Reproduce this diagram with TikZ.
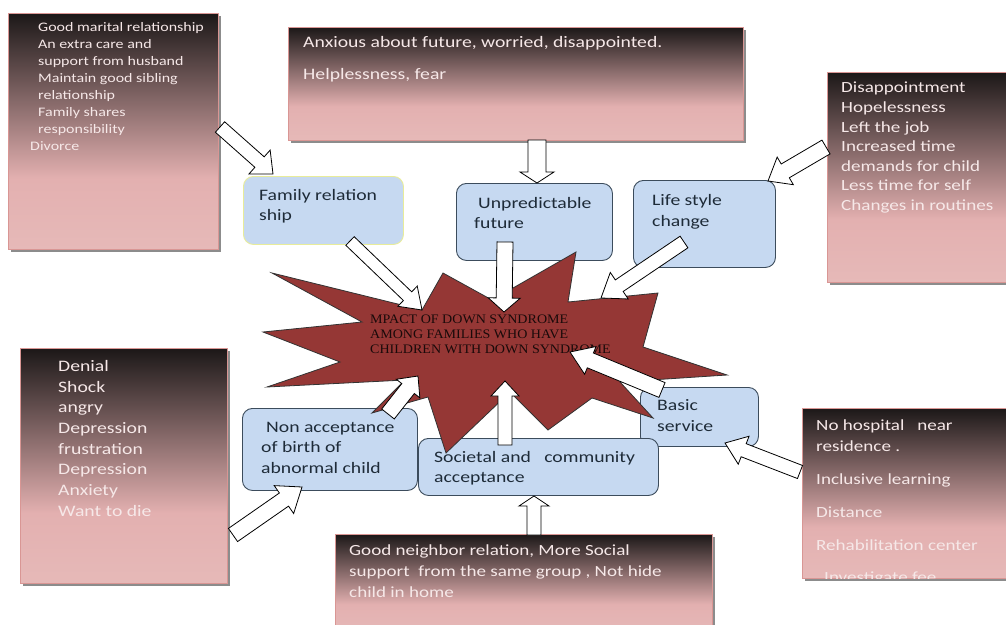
\documentclass[tikz,border=0pt]{standalone}
\usepackage{fontspec}
\setmainfont{Carlito}[FakeStretch=1.23]
\newfontfamily\starfont{Liberation Serif}[FakeStretch=1.08]
\usetikzlibrary{calc,shadows}
\definecolor{pinkA}{HTML}{E3B0B0}
\definecolor{pinkB}{HTML}{E6B9B8}
\definecolor{darkA}{HTML}{1C1818}
\definecolor{pinkline}{HTML}{D99694}
\definecolor{pinktxt}{HTML}{F6E8E8}
\definecolor{bluefill}{HTML}{C6D9F1}
\definecolor{blueline}{HTML}{3C4C5C}
\definecolor{yline}{HTML}{E8EC9A}
\definecolor{bluetxt}{HTML}{1E2B38}
\definecolor{starred}{HTML}{953735}
\definecolor{startxt}{HTML}{1A0A0A}
\pgfdeclareverticalshading{pinkgrad}{100bp}{color(0bp)=(pinkB); color(25bp)=(pinkB); color(40bp)=(pinkA); color(75bp)=(darkA); color(100bp)=(darkA)}
\newcommand\blockarrow[5]{%
  \coordinate (ba-n) at ($(#2)!#5!(#1)$);
  \draw[barrow] ($(#1)!#3!90:(#2)$) -- ($(ba-n)!#3!90:(#2)$) -- ($(ba-n)!#4!90:(#2)$) -- (#2)
    -- ($(ba-n)!#4!-90:(#2)$) -- ($(ba-n)!#3!-90:(#2)$) -- ($(#1)!#3!-90:(#2)$) -- cycle;
}
\begin{document}
\begin{tikzpicture}[x=1pt,y=-1pt,
  pinkbox/.style={rectangle, inner sep=0pt, anchor=north west, draw=pinkline, line width=0.8pt, shading=pinkgrad,
     drop shadow={shadow xshift=3pt, shadow yshift=-3pt, fill=black!45, opacity=1}},
  bluebox/.style={rectangle, rounded corners=10pt, inner sep=0pt, anchor=north west, fill=bluefill, draw=blueline, line width=0.9pt},
  ptext/.style={anchor=north west, inner sep=0pt, align=left, text=pinktxt},
  btext/.style={anchor=north west, inner sep=0pt, align=left, text=bluetxt},
  barrow/.style={draw=black, fill=white, line width=0.8pt, line join=miter},
  starstyle/.style={fill=starred, draw=black!80, line width=0.8pt, line join=miter}]
\useasboundingbox[fill=white] (0,0) rectangle (1006,624);

% pink boxes
\node[pinkbox, minimum width=210pt, minimum height=236pt] (b1) at (8,13) {};
\node[pinkbox, minimum width=455pt, minimum height=113pt] (b2) at (288,27) {};
\node[pinkbox, minimum width=185pt, minimum height=210pt] (b3) at (827,72) {};
\node[pinkbox, minimum width=207pt, minimum height=235pt] (b4) at (20,348) {};
\node[pinkbox, minimum width=210pt, minimum height=170pt] (b5) at (802,408) {};
\node[pinkbox, minimum width=377pt, minimum height=100pt] (b6) at (335,534) {};

\node[ptext, font=\fontsize{13}{17.1}\selectfont] (t1) at (38,22) {Good marital relationship\\An extra care and\\support from husband\\Maintain good sibling\\relationship\\Family shares\\responsibility\\\hspace*{-8pt}Divorce};
\node[ptext, font=\fontsize{16}{32}\selectfont] (t2) at (303,36) {Anxious about future, worried, disappointed.\\Helplessness, fear};
\node[ptext, font=\fontsize{15.5}{19.6}\selectfont] (t3) at (841,82) {Disappointment\\Hopelessness\\Left the job\\Increased time\\demands for child\\Less time for self\\Changes in routines};
\node[ptext, font=\fontsize{16}{20.7}\selectfont] (t4) at (58,360) {Denial\\Shock\\angry\\Depression\\frustration\\Depression\\Anxiety\\Want to die};
\begin{scope}
\clip (802,408) rectangle (1012,578);
\node[ptext, font=\fontsize{15.5}{21}\selectfont] (t5) at (816,420) {No hospital\ \ \ near\\residence .\\[12pt]Inclusive learning\\[12pt]Distance\\[12pt]Rehabilitation center\\[11pt]\hspace*{8pt}Investigate fee};
\end{scope}
\node[ptext, font=\fontsize{15.5}{21}\selectfont] (t6) at (349,545) {Good neighbor relation, More Social\\support\ \ from the same group , Not hide\\child in home};

% blue boxes
\node[bluebox, draw=yline, minimum width=160pt, minimum height=68pt] (fam) at (243,176) {};
\node[bluebox, minimum width=156pt, minimum height=77pt] (unp) at (456,183) {};
\node[bluebox, minimum width=142pt, minimum height=87pt] (life) at (633,180) {};
\node[bluebox, minimum width=118pt, minimum height=59pt] (basic) at (640,387) {};
\node[bluebox, minimum width=175pt, minimum height=82pt] (nonacc) at (242,408) {};
\node[bluebox, minimum width=240pt, minimum height=57pt] (soc) at (418,438) {};

\node[btext, font=\fontsize{16}{20.5}\selectfont] (famt) at (259,189) {Family relation\\ship};
\node[btext, font=\fontsize{16}{20}\selectfont] (unpt) at (474,197) {\hspace*{4pt}Unpredictable\\future};
\node[btext, font=\fontsize{16}{21}\selectfont] (lifet) at (652,194) {Life style\\change};
\node[btext, font=\fontsize{16}{21}\selectfont] (basict) at (657,399) {Basic\\service};
\node[btext, font=\fontsize{16}{20.5}\selectfont] (nonacct) at (261,422) {\hspace*{5pt}Non acceptance\\of birth of\\abnormal child};
\node[btext, font=\fontsize{16}{20}\selectfont] (soct) at (434,451) {Societal and\ \ \ community\\acceptance};

% starburst
\draw[starstyle] (272,273) -- (422,310) -- (443,273) -- (492,300) -- (576,252) -- (568,302) -- (658,293)
  -- (643,347) -- (727,375) -- (620,382) -- (653,418) -- (592,398) -- (548,430) -- (510,392)
  -- (446,453) -- (428,397) -- (372,413) -- (405,380) -- (267,387) -- (340,362) -- (263,332)
  -- (362,322) -- cycle;
\node[anchor=north west, inner sep=0pt, align=left, text=startxt, font=\starfont\fontsize{13}{15}\selectfont] (st) at (370,315) {MPACT OF DOWN SYNDROME\\AMONG FAMILIES WHO HAVE\\CHILDREN WITH DOWN SYNDROME};

% arrow end points
\coordinate (a1s) at (220,127); \coordinate (a1e) at (273,174);
\coordinate (a2s) at (350,241); \coordinate (a2e) at (422,310);
\coordinate (a3s) at (537,140); \coordinate (a3e) at (537,183);
\coordinate (a4s) at (505,242); \coordinate (a4e) at (504,312);
\coordinate (a5s) at (826,147); \coordinate (a5e) at (768,181);
\coordinate (a6s) at (684,242); \coordinate (a6e) at (601,298);
\coordinate (a7s) at (662,390); \coordinate (a7e) at (570,352);
\coordinate (a8s) at (800,472); \coordinate (a8e) at (725,443);
\coordinate (a9s) at (534,535); \coordinate (a9e) at (534,496);
\coordinate (a10s) at (505,445); \coordinate (a10e) at (505,381);
\coordinate (a11s) at (388,414); \coordinate (a11e) at (418,376);
\coordinate (a12s) at (233,535); \coordinate (a12e) at (302,487);

\blockarrow{a1s}{a1e}{7pt}{16pt}{18pt}
\blockarrow{a2s}{a2e}{6pt}{14pt}{20pt}
\blockarrow{a3s}{a3e}{9pt}{17pt}{11pt}
\blockarrow{a4s}{a4e}{8pt}{16pt}{14pt}
\blockarrow{a5s}{a5e}{8pt}{16pt}{20pt}
\blockarrow{a6s}{a6e}{7pt}{16pt}{22pt}
\blockarrow{a7s}{a7e}{8pt}{15pt}{22pt}
\blockarrow{a8s}{a8e}{7pt}{15pt}{20pt}
\blockarrow{a9s}{a9e}{7pt}{15pt}{10pt}
\blockarrow{a10s}{a10e}{7pt}{14pt}{15pt}
\blockarrow{a11s}{a11e}{8pt}{15pt}{16pt}
\blockarrow{a12s}{a12e}{8pt}{17pt}{22pt}
\end{tikzpicture}
\end{document}
